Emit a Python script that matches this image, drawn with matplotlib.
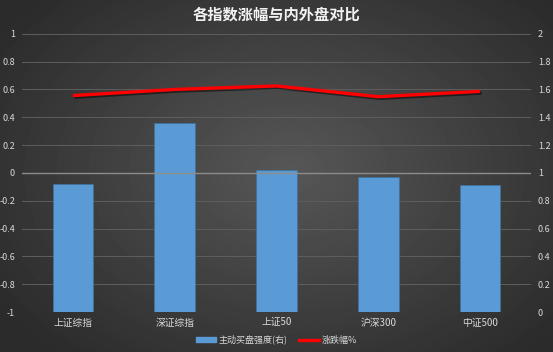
import numpy as np
import matplotlib
matplotlib.use("Agg")
from matplotlib import pyplot as plt
from matplotlib import patheffects as pe
from matplotlib.patches import Patch
from matplotlib.lines import Line2D

plt.rcParams['font.family'] = ['Noto Sans CJK SC', 'DejaVu Sans']

# data
categories = ['上证综指', '深证综指', '上证50', '沪深300', '中证500']
buy_strength = [0.92, 1.36, 1.02, 0.97, 0.91]   # right axis, bars
pct_change = [0.556, 0.60, 0.625, 0.548, 0.586]  # left axis, line
left_ticks = [-1, -0.8, -0.6, -0.4, -0.2, 0, 0.2, 0.4, 0.6, 0.8, 1]
right_ticks = [0, 0.2, 0.4, 0.6, 0.8, 1, 1.2, 1.4, 1.6, 1.8, 2]

fig = plt.figure(figsize=(5.53, 3.52), dpi=100)

# radial gradient background
bg = fig.add_axes([0, 0, 1, 1])
yy, xx = np.mgrid[0:352, 0:553]
r = np.sqrt(((xx - 290) / 330.0) ** 2 + ((yy - 170) / 230.0) ** 2)
shade = np.clip(0.34 - 0.16 * r, 0.17, 0.34)
bg.imshow(shade, cmap='gray', vmin=0, vmax=1, aspect='auto')
bg.axis('off')

ax = fig.add_axes([0.0398, 0.1136, 0.9204, 0.7904])
ax2 = ax.twinx()
ax.set_zorder(ax2.get_zorder() + 1)
ax.patch.set_visible(False)
ax2.patch.set_visible(False)

x = np.arange(len(categories))

ax2.bar(x, buy_strength, width=0.4, color='#5B9BD5', edgecolor='#41719C',
        linewidth=0.6, zorder=3)
ax2.set_ylim(0, 2)
ax2.set_yticks(right_ticks)
ax2.set_yticklabels([f'{t:g}' for t in right_ticks])

ax.plot(x, pct_change, color='#FF0000', linewidth=2.4, solid_capstyle='butt',
        path_effects=[pe.SimpleLineShadow(offset=(1, -1.2), shadow_color='black', alpha=0.5),
                      pe.Normal()], zorder=5)
ax.set_ylim(-1, 1)
ax.set_yticks(left_ticks)
ax.set_yticklabels([f'{t:g}' for t in left_ticks])
ax.set_xlim(-0.5, len(categories) - 0.5)
ax.set_xticks(x)
ax.set_xticklabels(categories)

# grid lines drawn on the bar axis so they sit behind the bars
for t in left_ticks:
    if t == 0:
        ax2.axhline(t + 1, color='#8c8c8c', linewidth=1.0, zorder=4)
    else:
        ax2.axhline(t + 1, color='#5e5e5e', linewidth=0.7, zorder=1)

for a in (ax, ax2):
    for s in a.spines.values():
        s.set_visible(False)
    a.tick_params(length=0, colors='#d9d9d9', labelsize=6.5, pad=5)
ax.tick_params(axis='x', labelsize=7, pad=4)

fig.text(0.5, 0.958, '各指数涨幅与内外盘对比', ha='center', va='center',
         color='#f2f2f2', fontsize=11, fontweight='bold')

handles = [Patch(facecolor='#5B9BD5', edgecolor='#5B9BD5'),
           Line2D([0], [0], color='#FF0000', linewidth=2.4)]
fig.legend(handles, ['主动买盘强度(右)', '涨跌幅%'], loc='center',
           bbox_to_anchor=(0.5, 0.035), ncol=2, frameon=False, fontsize=6.5,
           labelcolor='#d9d9d9', handlelength=2.2, handleheight=0.6,
           columnspacing=1.2, handletextpad=0.3)

fig.savefig('out.png', dpi=100)
